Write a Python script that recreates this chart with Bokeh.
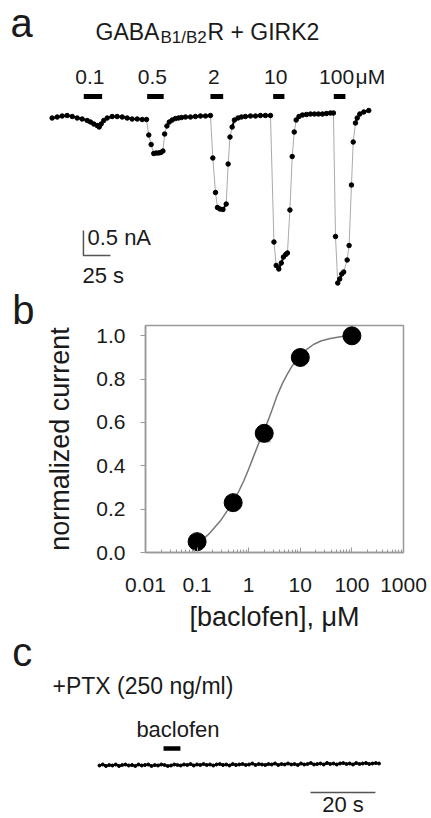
from bokeh.plotting import figure
from bokeh.layouts import column
from bokeh.models import Range1d, Label, FixedTicker, PrintfTickFormatter, CustomJSTickFormatter
from bokeh.core.properties import value
from bokeh.embed import file_html
from bokeh.resources import INLINE

FONT = "Liberation Sans"
INK = "#1a1a1a"

# ---------------- panel a : GABA-B1/B2R + GIRK2 trace (time s, current nA) ----------------
trace_t = [0.6, 5.3, 9.9, 14.5, 19.2, 23.8, 28.4, 33.1, 36.1, 39.2, 42.3, 44.2, 46.0, 48.4,
           51.6, 56.2, 60.8, 65.5, 70.1, 74.7, 79.4, 84.0, 88.0,
           90.1, 92.3, 94.7, 96.8, 99.1, 101.2, 103.2, 104.8, 106.9, 109.1, 111.8, 114.8, 117.6,
           120.4, 124.1, 128.7, 133.3, 138.0, 142.6, 147.2,
           149.4, 151.9, 153.7, 156.0, 158.8, 161.8, 163.6, 165.3, 167.3, 169.4,
           172.7, 175.9, 179.6, 184.3, 188.9, 193.5, 198.1, 202.8,
           206.0, 208.1, 210.5, 212.8, 214.8, 216.9, 218.5, 220.8, 222.9, 224.8, 226.6,
           229.2, 232.4, 236.1, 239.8, 243.5, 247.2, 250.9, 254.6, 258.3, 261.1,
           263.0, 265.1, 266.9, 268.8, 270.6, 273.8, 275.6, 277.8, 279.4, 281.5, 283.1,
           285.5, 289.2, 293.8]
trace_i = [-0.01, 0.01, 0.03, 0.04, 0.02, -0.01, -0.03, -0.06, -0.09, -0.13, -0.16, -0.19, -0.13, -0.06,
           -0.01, 0.02, 0.02, 0.01, -0.01, -0.03, -0.03, -0.04, -0.04,
           -0.35, -0.54, -0.72, -0.71, -0.71, -0.70, -0.67, -0.33, -0.17, -0.09, -0.05, -0.02, -0.01,
           0.00, 0.01, 0.01, 0.02, 0.03, 0.03, 0.04,
           -0.81, -1.50, -1.80, -1.83, -1.84, -1.73, -0.93, -0.39, -0.19, -0.05,
           -0.01, 0.01, 0.02, 0.03, 0.03, 0.04, 0.04, 0.04,
           -2.49, -2.96, -3.03, -2.91, -2.79, -2.74, -2.71, -1.85, -0.78, -0.29, -0.05,
           0.02, 0.05, 0.06, 0.07, 0.07, 0.07, 0.07, 0.08, 0.09, 0.09,
           -2.38, -3.31, -3.23, -3.13, -3.09, -2.85, -2.56, -1.35, -0.49, -0.11, -0.01,
           0.07, 0.11, 0.14]
conc_labels = ["0.1", "0.5", "2", "10", "100"]
app_start = [29.9, 88.6, 147.2, 205.3, 261.4]
app_end = [46.9, 103.9, 159.0, 215.7, 272.2]
scale_a_time = 25      # s
scale_a_current = 0.5  # nA

# ---------------- panel b : dose-response ----------------
conc = [0.1, 0.5, 2, 10, 100]
resp = [0.05, 0.23, 0.55, 0.90, 1.00]
sem = [0.01, 0.02, 0.039, 0.02, 0.0]
fit_conc = [0.1, 0.13, 0.16, 0.2, 0.28, 0.35, 0.5, 0.65, 0.8, 1.0, 1.26, 1.6, 2.0, 2.4, 2.85,
            3.5, 4.46, 5.5, 7.0, 10, 13, 18, 25, 38, 60, 100]
fit_resp = [0.045, 0.062, 0.08, 0.105, 0.145, 0.178, 0.235, 0.285, 0.33, 0.385, 0.447, 0.51,
            0.565, 0.612, 0.66, 0.72, 0.778, 0.82, 0.862, 0.905, 0.935, 0.96, 0.976, 0.988,
            0.996, 1.0]
x_ticks = [0.01, 0.1, 1, 10, 100, 1000]
y_ticks = [0.0, 0.2, 0.4, 0.6, 0.8, 1.0]

# ---------------- panel c : +PTX trace ----------------
c_t = [0, 1, 2, 3, 4, 5, 6, 7, 8, 9,
       10, 11, 12, 13, 14, 15, 16, 17, 18, 19,
       20, 21, 22, 23, 24, 25, 26, 27, 28, 29,
       30, 31, 32, 33, 34, 35, 36, 37, 38, 39,
       40, 41, 42, 43, 44, 45, 46, 47, 48, 49,
       50, 51, 52, 53, 54, 55, 56, 57, 58, 59,
       60, 61, 62, 63, 64, 65, 66, 67, 68, 69,
       70, 71, 72, 73, 74, 75, 76, 77, 78, 79,
       80, 81, 82, 83, 84, 85, 86]
c_i = [0.00, 0.02, -0.01, 0.01, 0.00, 0.02, -0.01, 0.01, 0.02, 0.00,
       0.01, -0.01, 0.02, 0.00, 0.01, 0.02, -0.01, 0.01, 0.00, 0.02,
       0.01, -0.01, 0.00, 0.02, 0.01, 0.00, 0.02, 0.01, 0.03, 0.00,
       0.02, 0.01, 0.03, 0.01, 0.02, 0.00, 0.02, 0.03, 0.01, 0.02,
       0.00, 0.03, 0.01, 0.02, 0.03, 0.01, 0.02, 0.04, 0.01, 0.03,
       0.02, 0.01, 0.03, 0.02, 0.04, 0.01, 0.03, 0.02, 0.04, 0.02,
       0.03, 0.01, 0.04, 0.02, 0.03, 0.05, 0.02, 0.03, 0.04, 0.02,
       0.05, 0.03, 0.04, 0.02, 0.04, 0.05, 0.03, 0.04, 0.02, 0.05,
       0.03, 0.04, 0.05, 0.03, 0.04, 0.05, 0.04]
c_app_start = [19.7]
c_app_end = [24.9]
scale_c_time = 20  # s

MID = 0.3465   # em-box middle above the alphabetic baseline
PPU = 50.0     # trace panels: pixels per nA


def lab(p, text, x, yb, size, units="screen", align="left", xo=0, color=INK):
    """Place text whose alphabetic baseline is at yb (converted to a middle anchor)."""
    dy = MID * size if units == "screen" else MID * size / PPU
    p.add_layout(Label(x=x, y=yb + dy, x_units=units, y_units=units, text=text, x_offset=xo,
                       text_font=FONT, text_font_size=f"{size}px", text_color=color,
                       text_align=align, text_baseline="middle"))


W = 431
HA = 332          # panel a canvas (overlaps panel b by OVL_B px, all transparent)
OVL_B = 9
HC = 190          # panel c canvas (overlaps panel b by OVL_C px)
OVL_C = 12

# ======================= panel a =======================
pa = figure(width=W, height=HA, x_range=Range1d(-47.2, 351.9),
            y_range=Range1d((117 - HA) / PPU, 117 / PPU),
            output_backend="svg", toolbar_location=None, x_axis_location=None,
            y_axis_location=None, min_border=0, frame_align=False)
pa.grid.visible = False
pa.outline_line_color = None
pa.background_fill_color = None
pa.border_fill_color = None

pa.line(trace_t, trace_i, line_color="#aaaaaa", line_width=1)
dx0, dy0, dx1, dy1 = [], [], [], []
for k in range(len(trace_t) - 1):
    if abs(trace_i[k + 1] - trace_i[k]) < 0.15:
        dx0.append(trace_t[k]); dy0.append(trace_i[k])
        dx1.append(trace_t[k + 1]); dy1.append(trace_i[k + 1])
pa.segment(x0=dx0, y0=dy0, x1=dx1, y1=dy1, line_color="black", line_width=2)
pa.scatter(trace_t, trace_i, size=4.5, color="black")

bar_y = 0.42
pa.segment(x0=app_start, y0=[bar_y] * 5, x1=app_end, y1=[bar_y] * 5,
           line_color="black", line_width=5, line_cap="butt")
bar_mid = [(a + b) / 2 for a, b in zip(app_start, app_end)]
conc_y = 0.674 + MID * 21 / PPU
pa.text(x=bar_mid, y=[conc_y] * 5, text=conc_labels, x_offset=-3,
        text_font=value(FONT), text_font_size="21px", text_color=INK,
        text_align="center", text_baseline="middle")
lab(pa, "μM", bar_mid[-1], 0.674, 21, units="data", xo=16)

# scale bar
sb_t0, sb_i0 = 29.6, -2.76
pa.line([sb_t0, sb_t0, sb_t0 + scale_a_time], [sb_i0 + scale_a_current, sb_i0, sb_i0],
        line_color="#555555", line_width=1.5)
lab(pa, "0.5 nA", 33.3, -2.56, 22, units="data")
lab(pa, "25 s", 28.7, -3.32, 22, units="data")

lab(pa, "a", 10, HA - 36.7, 40)
lab(pa, "GABA", 95, HA - 39, 23)
lab(pa, "B1/B2", 160, HA - 43.3, 17)
lab(pa, "R + GIRK2", 207, HA - 39, 23)
lab(pa, "b", 11.7, HA - 323, 40)

# ======================= panel b =======================
pb = figure(width=W, height=317, x_axis_type="log", x_range=Range1d(0.01, 1000),
            y_range=Range1d(0, 1.0476), output_backend="svg", toolbar_location=None,
            min_border_left=145, min_border_right=28, min_border_top=2, min_border_bottom=88,
            frame_align=False)
pb.styles = {"margin-top": f"-{OVL_B}px"}
pb.grid.visible = False
pb.outline_line_color = "#999999"
pb.outline_line_width = 1.5
pb.border_fill_color = None
pb.background_fill_color = None

pb.line(fit_conc, fit_resp, line_color="#777777", line_width=1.5)
lo = [r - s for r, s in zip(resp, sem)]
hi = [r + s for r, s in zip(resp, sem)]
pb.segment(x0=conc, y0=lo, x1=conc, y1=hi, line_color="#888888", line_width=1)
pb.scatter(conc, lo, marker="dash", size=13, line_color="#888888", line_width=1)
pb.scatter(conc, resp, size=18, color="black")

minor = []
for d in [0.01, 0.1, 1, 10, 100]:
    for m in range(2, 10):
        minor.append(d * m)
pb.xaxis.ticker = FixedTicker(ticks=x_ticks, minor_ticks=minor)
pb.xaxis.formatter = CustomJSTickFormatter(code="return tick.toString();")
pb.yaxis.ticker = FixedTicker(ticks=y_ticks, minor_ticks=[])
pb.yaxis.formatter = PrintfTickFormatter(format="%.1f")
pb.xaxis.axis_label = "[baclofen], μM"
pb.yaxis.axis_label = "normalized current"
for ax in (pb.xaxis, pb.yaxis):
    ax.axis_line_color = "#999999"
    ax.axis_line_width = 1.5
    ax.major_tick_line_color = "#999999"
    ax.minor_tick_line_color = "#999999"
    ax.major_label_text_font = FONT
    ax.major_label_text_font_size = "21px"
    ax.major_label_text_color = INK
    ax.axis_label_text_font = FONT
    ax.axis_label_text_font_size = "27px"
    ax.axis_label_text_font_style = "normal"
    ax.axis_label_text_color = INK
pb.xaxis.major_tick_in = 5
pb.xaxis.major_tick_out = 0
pb.xaxis.minor_tick_in = 3
pb.xaxis.minor_tick_out = 0
pb.xaxis.major_label_standoff = 25
pb.xaxis.axis_label_standoff = 7
pb.yaxis.major_tick_in = 0
pb.yaxis.major_tick_out = 5
pb.yaxis.major_label_standoff = 15
pb.yaxis.axis_label_standoff = 18

# ======================= panel c =======================
pc = figure(width=W, height=HC, x_range=Range1d(-30.46, 102.15),
            y_range=Range1d((765 - 818) / PPU, (765 - (818 - HC)) / PPU),
            output_backend="svg", toolbar_location=None, x_axis_location=None,
            y_axis_location=None, min_border=0, frame_align=False)
pc.styles = {"margin-top": f"-{OVL_C}px"}
pc.grid.visible = False
pc.outline_line_color = None
pc.background_fill_color = None
pc.border_fill_color = None

pc.line(c_t, c_i, line_color="black", line_width=2.2)
pc.scatter(c_t, c_i, size=3, color="black")
pc.segment(x0=c_app_start, y0=[0.34], x1=c_app_end, y1=[0.34], line_color="black",
           line_width=4.5, line_cap="butt")
lab(pc, "baclofen", (c_app_start[0] + c_app_end[0]) / 2, 0.56, 22, units="data",
    align="center", xo=6)
sc_t0, sc_i0 = 64.9, -0.54
pc.line([sc_t0, sc_t0 + scale_c_time], [sc_i0, sc_i0], line_color="#555555", line_width=1.5)
lab(pc, "20 s", sc_t0 + scale_c_time / 2, (765 - 812) / PPU, 22, units="data", align="center")

lab(pc, "c", 11.7, 818 - 665, 40)
lab(pc, "+PTX (250 ng/ml)", 52, 818 - 693, 23)

layout = column(pa, pb, pc, spacing=0)
open("out.html", "w").write(file_html(layout, INLINE))
